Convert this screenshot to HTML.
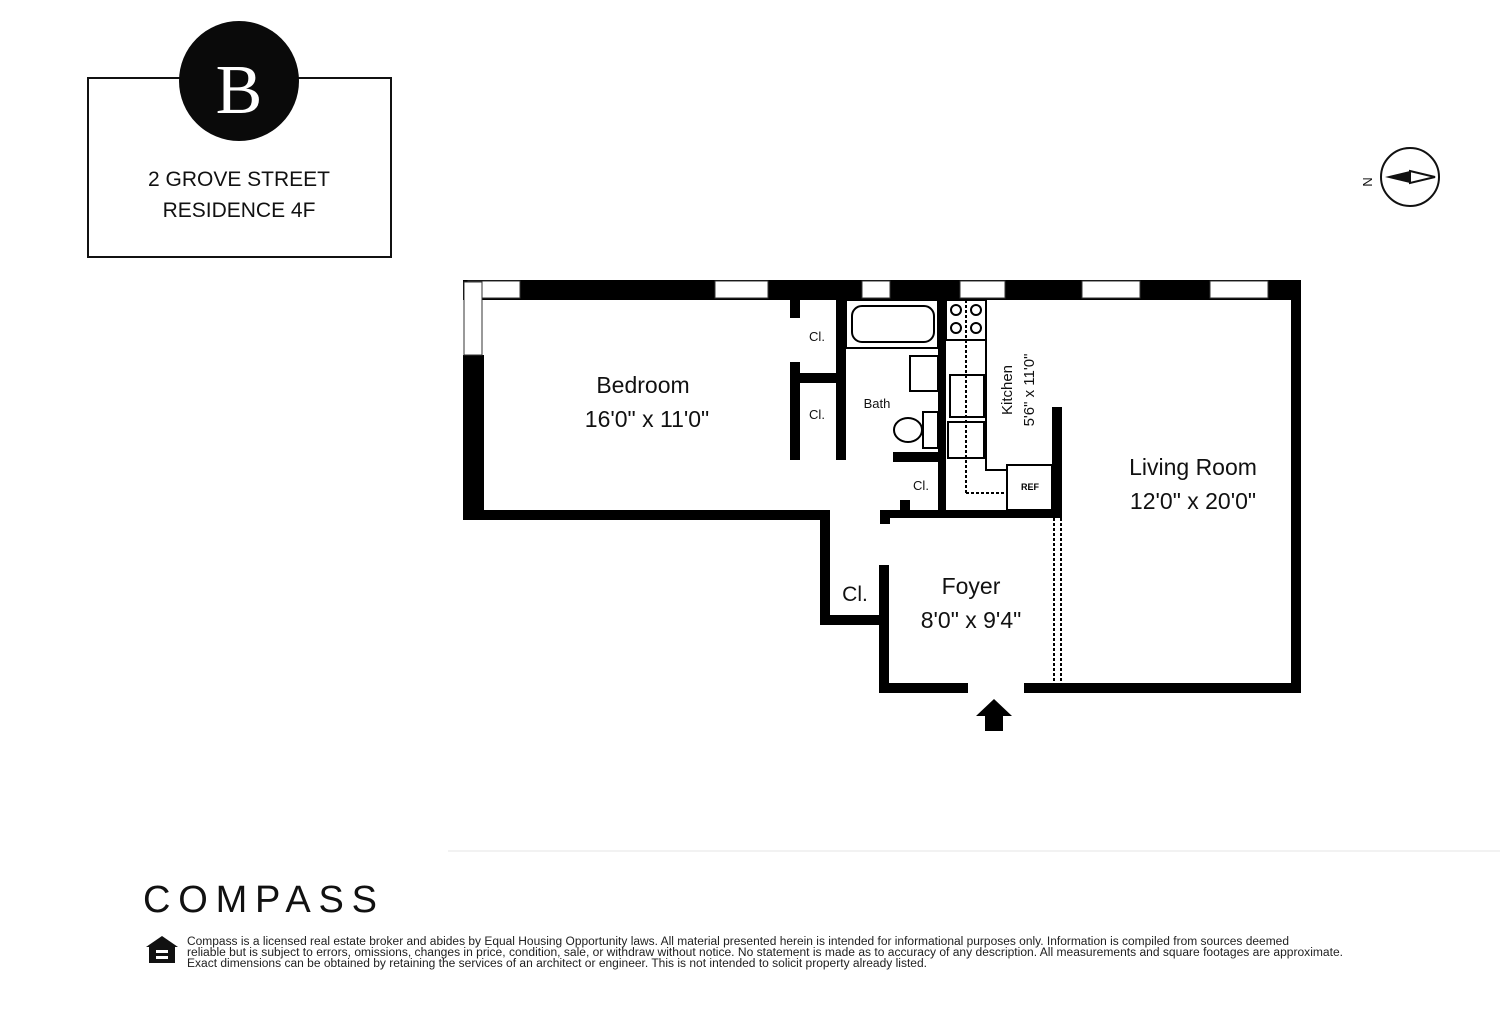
<!DOCTYPE html>
<html><head><style>
body{margin:0;background:#fff;}
svg{display:block;font-family:"Liberation Sans",sans-serif;}
</style></head><body>
<svg width="1500" height="1023" viewBox="0 0 1500 1023">
<rect width="1500" height="1023" fill="#fff"/>
<rect x="88" y="78" width="303" height="179" fill="none" stroke="#111" stroke-width="2"/>
<circle cx="239" cy="81" r="60" fill="#0a0a0a"/>
<text x="239" y="113" font-family="Liberation Serif,serif" font-size="70" fill="#fff" text-anchor="middle">B</text>
<text x="239" y="186" font-size="21" text-anchor="middle" fill="#111">2 GROVE STREET</text>
<text x="239" y="217" font-size="21" text-anchor="middle" fill="#111">RESIDENCE 4F</text>
<circle cx="1410" cy="177" r="29" fill="none" stroke="#111" stroke-width="2"/>
<polygon points="1385,177 1410,171 1410,183" fill="#111"/>
<polygon points="1410,171 1435,177 1410,183" fill="#fff" stroke="#111" stroke-width="2"/>
<text x="1368" y="177" font-size="13" text-anchor="middle" transform="rotate(90 1363 177)" fill="#111">N</text>
<g fill="#000">
<rect x="463" y="280" width="838" height="20"/>
<rect x="463" y="355" width="21" height="165"/>
<rect x="463" y="510" width="367" height="10"/>
<rect x="820" y="510" width="10" height="115"/>
<rect x="820" y="615" width="68" height="10"/>
<rect x="879" y="565" width="10" height="128"/>
<rect x="879" y="683" width="89" height="10"/>
<rect x="1024" y="683" width="277" height="10"/>
<rect x="1291" y="280" width="10" height="413"/>
<rect x="880" y="510" width="182" height="8"/>
<rect x="880" y="510" width="10" height="14"/>
<rect x="938" y="300" width="8" height="218"/>
<rect x="1052" y="407" width="10" height="111"/>
<rect x="790" y="300" width="10" height="18"/>
<rect x="790" y="362" width="10" height="98"/>
<rect x="790" y="373" width="48" height="10"/>
<rect x="836" y="300" width="10" height="160"/>
<rect x="893" y="452" width="47" height="10"/>
<rect x="900" y="500" width="10" height="12"/>
</g>
<g fill="#fff" stroke="#333" stroke-width="1">
<rect x="468" y="281" width="52" height="17"/>
<rect x="715" y="281" width="53" height="17"/>
<rect x="862" y="281" width="28" height="17"/>
<rect x="960" y="281" width="45" height="17"/>
<rect x="1082" y="281" width="58" height="17"/>
<rect x="1210" y="281" width="58" height="17"/>
<rect x="464" y="282" width="18" height="73"/>
</g>
<g fill="none" stroke="#000" stroke-width="2">
<rect x="846" y="300" width="92" height="48"/>
<rect x="852" y="306" width="82" height="36" rx="10"/>
<rect x="910" y="356" width="28" height="35"/>
<rect x="923" y="412" width="15" height="36"/>
<ellipse cx="908" cy="430" rx="14" ry="12"/>
<rect x="946" y="300" width="40" height="40"/>
<circle cx="956" cy="310" r="5"/><circle cx="976" cy="310" r="5"/>
<circle cx="956" cy="328" r="5"/><circle cx="976" cy="328" r="5"/>
<rect x="950" y="375" width="34" height="42"/>
<rect x="948" y="422" width="36" height="36"/>
<polyline points="986,300 986,470 1007,470"/>
<rect x="1007" y="465" width="45" height="45"/>
<line x1="966" y1="300" x2="966" y2="493" stroke-dasharray="3,2"/>
<line x1="966" y1="493" x2="1007" y2="493" stroke-dasharray="3,2"/>
<line x1="1054" y1="518" x2="1054" y2="683" stroke-dasharray="3,2"/>
<line x1="1061" y1="518" x2="1061" y2="683" stroke-dasharray="3,2"/>
</g>
<text x="1030" y="490" font-size="9" font-weight="bold" text-anchor="middle">REF</text>
<polygon points="994,699 1012,716 1003,716 1003,731 985,731 985,716 976,716" fill="#000"/>
<g fill="#111" text-anchor="middle">
<text x="643" y="393" font-size="23">Bedroom</text>
<text x="647" y="427" font-size="23">16'0" x 11'0"</text>
<text x="1193" y="475" font-size="23">Living Room</text>
<text x="1193" y="509" font-size="23">12'0" x 20'0"</text>
<text x="971" y="594" font-size="23">Foyer</text>
<text x="971" y="628" font-size="23">8'0" x 9'4"</text>
<text x="855" y="601" font-size="21">Cl.</text>
<text x="817" y="341" font-size="13">Cl.</text>
<text x="817" y="419" font-size="13">Cl.</text>
<text x="921" y="490" font-size="13">Cl.</text>
<text x="877" y="408" font-size="13">Bath</text>
<text transform="translate(1012 390) rotate(-90)" font-size="15">Kitchen</text>
<text transform="translate(1034 390) rotate(-90)" font-size="15">5'6" x 11'0"</text>
</g>
<line x1="448" y1="851" x2="1500" y2="851" stroke="#e6e6e6" stroke-width="1"/>
<text x="143" y="912" font-size="38" textLength="234" lengthAdjust="spacing" fill="#111">COMPASS</text>
<g transform="translate(146 936)">
<polygon points="16,0 32,11 0,11" fill="#111"/>
<rect x="3" y="11" width="26" height="16" fill="#111"/>
<rect x="10" y="14" width="12" height="3" fill="#fff"/><rect x="10" y="20" width="12" height="3" fill="#fff"/>
</g>
<g font-size="11.5" fill="#222">
<text x="187" y="945" textLength="1102" lengthAdjust="spacingAndGlyphs">Compass is a licensed real estate broker and abides by Equal Housing Opportunity laws. All material presented herein is intended for informational purposes only. Information is compiled from sources deemed</text>
<text x="187" y="956" textLength="1156" lengthAdjust="spacingAndGlyphs">reliable but is subject to errors, omissions, changes in price, condition, sale, or withdraw without notice. No statement is made as to accuracy of any description. All measurements and square footages are approximate.</text>
<text x="187" y="967" textLength="740" lengthAdjust="spacingAndGlyphs">Exact dimensions can be obtained by retaining the services of an architect or engineer. This is not intended to solicit property already listed.</text>
</g>
</svg>
</body></html>
